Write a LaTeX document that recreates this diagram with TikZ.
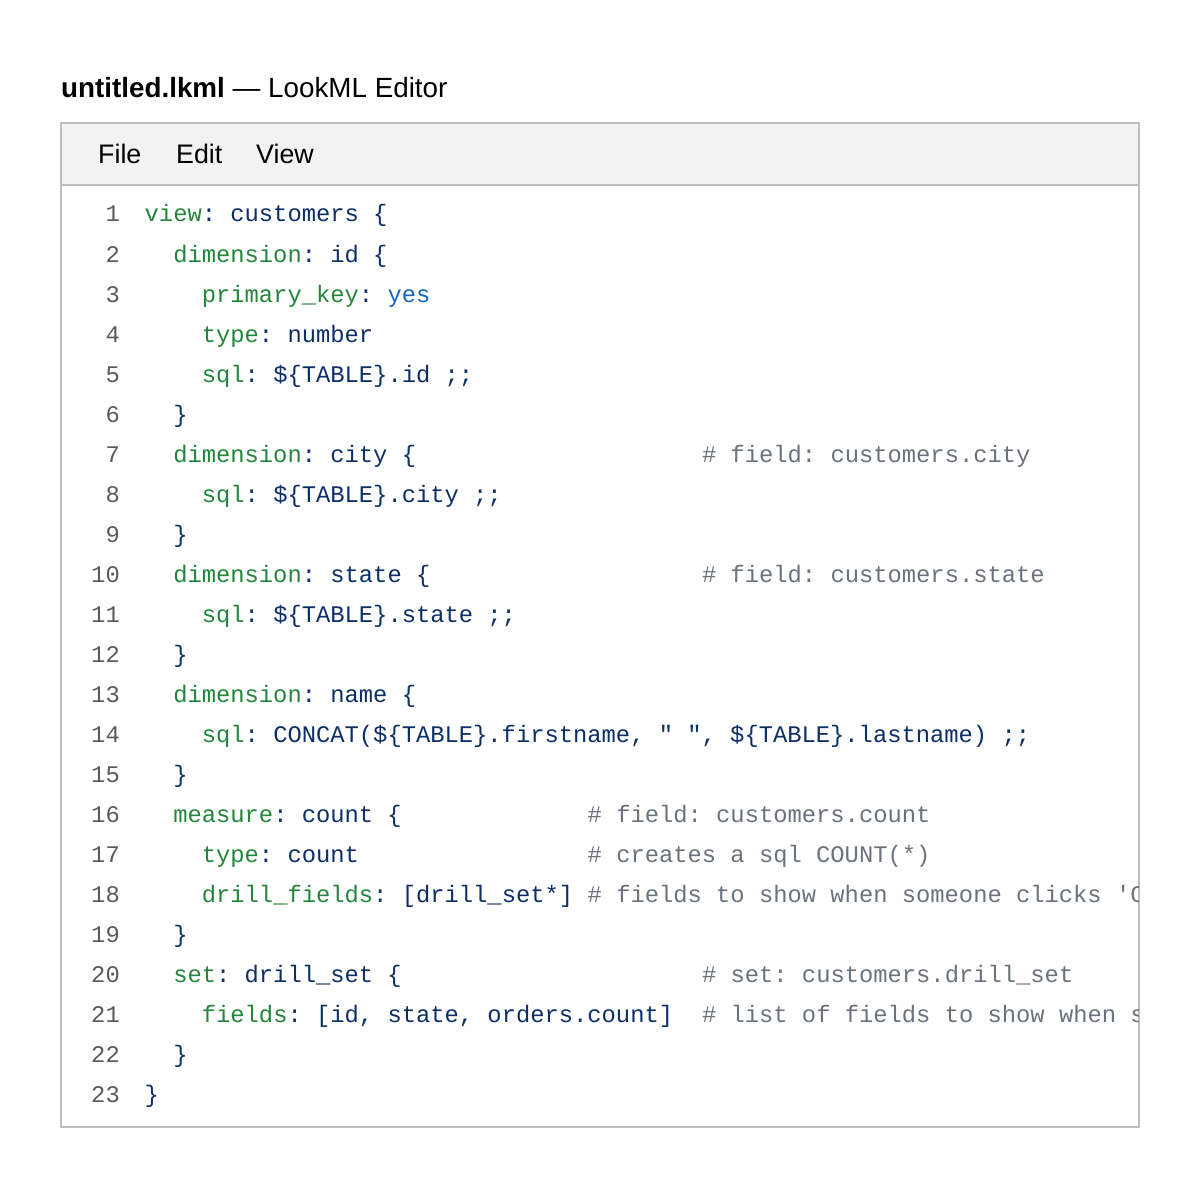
\documentclass[tikz,border=0pt]{standalone}
\usepackage{fontspec}
\setmainfont{Liberation Sans}
\setmonofont{Liberation Mono}
\definecolor{K}{HTML}{23863A}
\definecolor{V}{HTML}{0B2F66}
\definecolor{N}{HTML}{1565C0}
\definecolor{C}{HTML}{6A737D}
\definecolor{LN}{HTML}{5A5A5A}
\definecolor{bd}{HTML}{BDBDBD}
\newcommand{\K}[1]{\textcolor{K}{#1}}
\newcommand{\V}[1]{\textcolor{V}{#1}}
\newcommand{\CC}[1]{\textcolor{C}{#1}}
\tikzset{code/.style={anchor=base west,inner sep=0pt,font=\fontsize{23.8}{28}\selectfont\ttfamily},
 lnum/.style={anchor=base east,inner sep=0pt,text=LN,font=\fontsize{23.8}{28}\selectfont\ttfamily},
 menu/.style={anchor=base west,inner sep=0pt,font=\fontsize{26.8}{30}\selectfont}}
\newcommand{\codeln}[3]{\node[code] (c#1-#2) at ({144.5+#2*14.29},{222+(#1-1)*40}) {#3};}
\begin{document}
\begin{tikzpicture}[x=1pt,y=-1pt]
\useasboundingbox (0,0) rectangle (1200,1196);
\node[anchor=base west,inner sep=0pt,font=\fontsize{27.8}{32}\selectfont] (title) at (61,98) {\textbf{untitled.lkml} — LookML Editor};
\draw[bd,line width=1.5pt,fill=white] (61,123) rectangle (1139,1127);
\draw[bd,line width=1.5pt,fill=black!5] (61,123) rectangle (1139,185);
\node[menu] (mf) at (98,164) {File};
\node[menu] (me) at (176,164) {Edit};
\node[menu] (mv) at (256,164) {View};
\foreach \i in {1,...,23} \node[lnum] (n\i) at (120,{222+(\i-1)*40}) {\i};
\begin{scope}
\clip (61,185) rectangle (1138,1127);
\codeln{1}{0}{\K{view}\V{: customers \{}}
\codeln{2}{2}{\K{dimension}\V{: id \{}}
\codeln{3}{4}{\K{primary\_key}\V{: }\textcolor{N}{yes}}
\codeln{4}{4}{\K{type}\V{: number}}
\codeln{5}{4}{\K{sql}\V{: \$\{TABLE\}.id ;;}}
\codeln{6}{2}{\V{\}}}
\codeln{7}{2}{\K{dimension}\V{: city \{}}
\codeln{7}{39}{\CC{\# field: customers.city}}
\codeln{8}{4}{\K{sql}\V{: \$\{TABLE\}.city ;;}}
\codeln{9}{2}{\V{\}}}
\codeln{10}{2}{\K{dimension}\V{: state \{}}
\codeln{10}{39}{\CC{\# field: customers.state}}
\codeln{11}{4}{\K{sql}\V{: \$\{TABLE\}.state ;;}}
\codeln{12}{2}{\V{\}}}
\codeln{13}{2}{\K{dimension}\V{: name \{}}
\codeln{14}{4}{\K{sql}\V{: CONCAT(\$\{TABLE\}.firstname, " ", \$\{TABLE\}.lastname) ;;}}
\codeln{15}{2}{\V{\}}}
\codeln{16}{2}{\K{measure}\V{: count \{}}
\codeln{16}{31}{\CC{\# field: customers.count}}
\codeln{17}{4}{\K{type}\V{: count}}
\codeln{17}{31}{\CC{\# creates a sql COUNT(*)}}
\codeln{18}{4}{\K{drill\_fields}\V{: [drill\_set*]}}
\codeln{18}{31}{\CC{\# fields to show when someone clicks 'COUNT'}}
\codeln{19}{2}{\V{\}}}
\codeln{20}{2}{\K{set}\V{: drill\_set \{}}
\codeln{20}{39}{\CC{\# set: customers.drill\_set}}
\codeln{21}{4}{\K{fields}\V{: [id, state, orders.count]}}
\codeln{21}{39}{\CC{\# list of fields to show when someone clicks}}
\codeln{22}{2}{\V{\}}}
\codeln{23}{0}{\V{\}}}
\end{scope}
\end{tikzpicture}
\end{document}
